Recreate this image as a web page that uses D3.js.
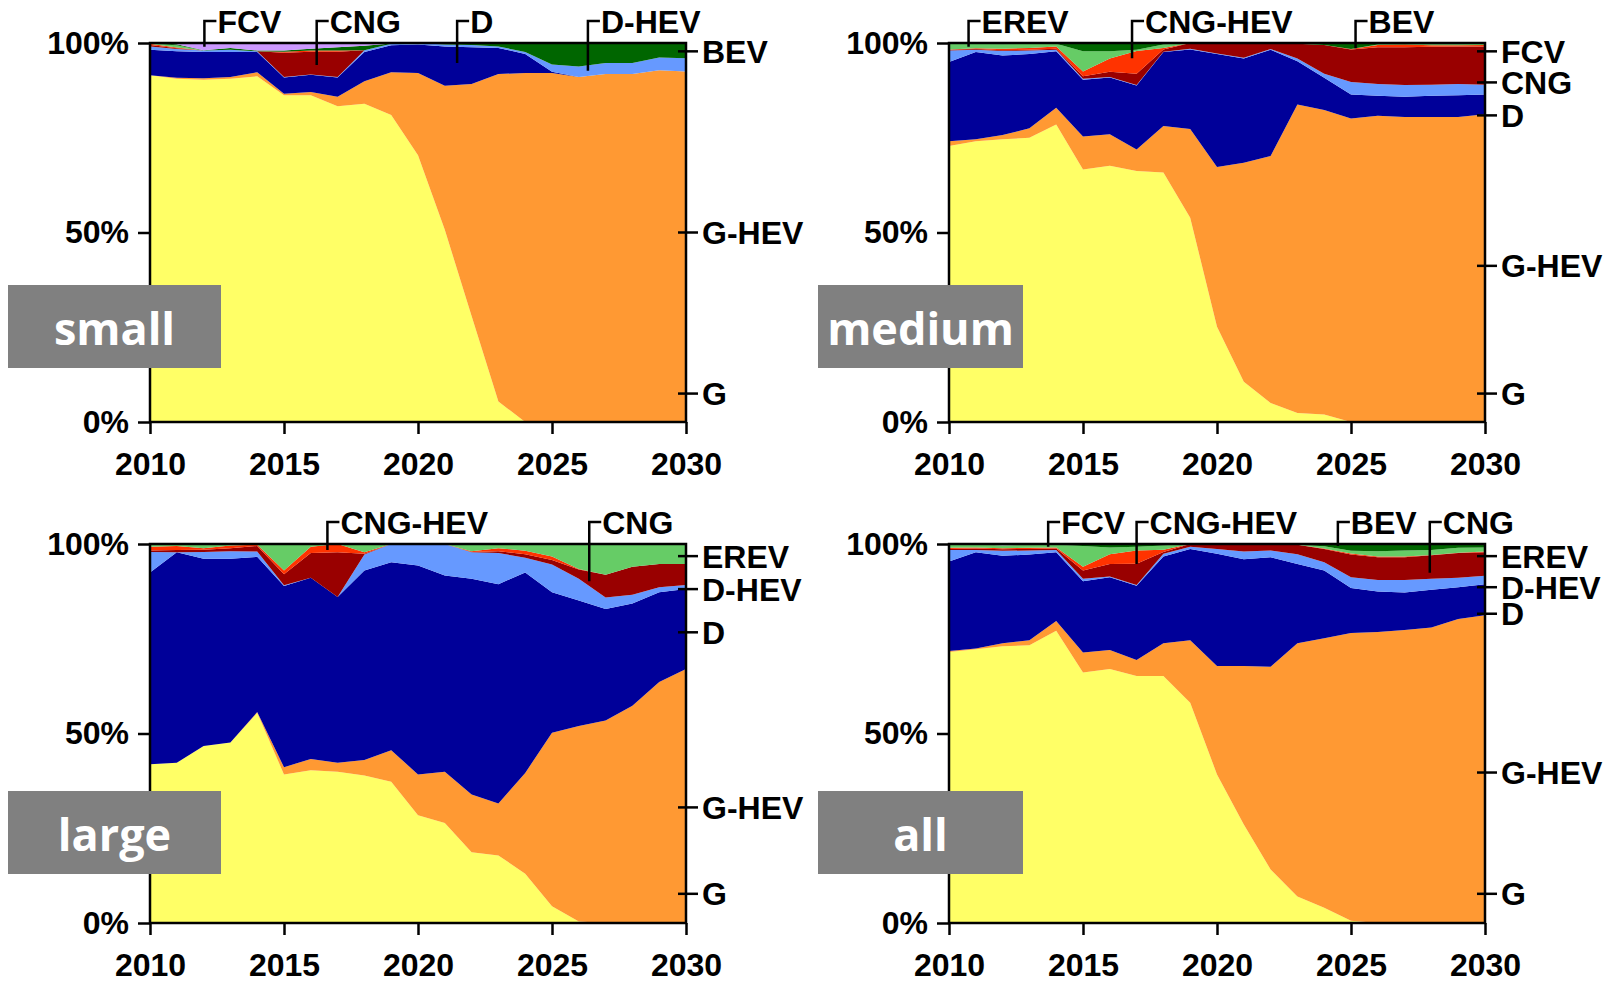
<!DOCTYPE html>
<html>
<head>
<meta charset="utf-8">
<script src="https://cdn.jsdelivr.net/npm/d3@7"></script>
<style>
  body { margin: 0; background: #fff; }
  svg text { font-family: "Liberation Sans", Arial, sans-serif; font-weight: bold; }
  .box-label { font-family: "Open Sans", sans-serif; }
</style>
</head>
<body>
<svg id="chart" width="1615" height="981"></svg>
<script>
// categories
const years = d3.range(2010, 2031);
const seriesKeys = ['G', 'G-HEV', 'D', 'D-HEV', 'CNG', 'CNG-HEV', 'EREV', 'BEV', 'FCV'];
const seriesColors = ['#FFFF66', '#FF9933', '#000099', '#6699FF', '#990000', '#FF3300', '#66CC66', '#006600', '#CC99FF'];

// shares in % (rows follow seriesKeys, columns follow years)
const smallShares = [
  [91.5, 90.6, 90.3, 90.6, 91.2, 86.2, 86.2, 83.3, 84.0, 81.0, 70.4, 50.7, 28.0, 5.4, 0, 0, 0, 0, 0, 0, 0],
  [0, 0.2, 0.4, 0.4, 1.1, 0.4, 0.9, 2.5, 5.9, 11.3, 21.7, 38.0, 61.2, 86.4, 92.1, 92.1, 91.0, 91.8, 91.8, 92.8, 92.5],
  [6.7, 7.0, 6.9, 6.6, 5.3, 4.3, 4.5, 5.1, 7.7, 7.1, 7.5, 10.4, 9.7, 6.9, 5.0, 0.3, 0, 0, 0, 0, 0],
  [0.9, 0.6, 0.4, 0.6, 0.2, 0.1, 0.1, 0.1, 0.5, 0.4, 0.4, 0.5, 0.6, 0.4, 0.5, 1.9, 2.8, 2.9, 2.9, 3.4, 3.5],
  [0.4, 0.2, 0, 0, 0, 6.4, 6.0, 6.7, 0, 0, 0, 0, 0, 0, 0, 0, 0, 0, 0, 0, 0],
  [0.3, 0.2, 0, 0, 0, 0.3, 0.3, 0.3, 0, 0, 0, 0, 0, 0, 0, 0, 0, 0, 0, 0, 0],
  [0.1, 0.6, 0, 0, 0, 0, 0, 0, 0, 0, 0, 0, 0, 0, 0, 0, 0, 0, 0, 0, 0],
  [0.1, 0.3, 0.1, 0.5, 0.2, 0.3, 0.5, 0.9, 1.2, 0.1, 0, 0.4, 0.5, 0.9, 2.4, 5.7, 6.2, 5.3, 5.3, 3.8, 4.0],
  [0, 0.3, 1.9, 1.3, 2.0, 2.0, 1.5, 1.1, 0.7, 0.1, 0, 0, 0, 0, 0, 0, 0, 0, 0, 0, 0]
];
const mediumShares = [
  [72.8, 74.1, 74.6, 75.0, 78.5, 66.6, 67.6, 66.2, 65.8, 53.9, 25.1, 10.6, 5.0, 2.4, 2.0, 0, 0, 0, 0, 0, 0],
  [1.3, 0.5, 1.1, 2.5, 4.4, 8.7, 8.3, 5.7, 12.3, 23.4, 42.2, 57.8, 65.2, 81.4, 80.3, 80.1, 80.8, 80.5, 80.5, 80.5, 81.2],
  [20.9, 23.0, 21.0, 19.6, 14.9, 15.0, 15.0, 16.9, 19.5, 21.0, 29.8, 27.5, 28.0, 11.4, 8.5, 6.3, 5.3, 5.3, 5.6, 5.7, 5.2],
  [3.0, 0.6, 1.2, 0.9, 0.4, 0.3, 0.1, 0.1, 0.1, 0.2, 0.1, 0.2, 0.2, 0.7, 1.1, 3.3, 3.1, 3.1, 2.9, 3.0, 2.6],
  [0.2, 0.2, 0.2, 0.2, 0.3, 0.6, 1.4, 3.0, 0.6, 1.5, 2.8, 3.9, 1.6, 3.9, 7.6, 8.6, 9.7, 10.0, 10.0, 9.9, 10.1],
  [0.1, 0.2, 0.4, 0.5, 0.6, 1.3, 3.5, 6.0, 0.4, 0, 0, 0, 0, 0, 0, 0.1, 0.6, 0.7, 0.4, 0.3, 0.4],
  [1.5, 1.2, 1.2, 1.1, 0.7, 5.3, 1.9, 0.3, 0.9, 0, 0, 0, 0, 0, 0, 0, 0.1, 0, 0.3, 0.3, 0.3],
  [0.1, 0.1, 0.1, 0.1, 0.1, 2.2, 2.2, 1.8, 0.4, 0, 0, 0, 0, 0.2, 0.5, 1.6, 0.4, 0.4, 0.3, 0.3, 0.2],
  [0.1, 0.1, 0.2, 0.1, 0.1, 0, 0, 0, 0, 0, 0, 0, 0, 0, 0, 0, 0, 0, 0, 0, 0]
];
const largeShares = [
  [41.9, 42.3, 46.7, 47.6, 55.5, 39.2, 40.3, 39.9, 38.9, 37.3, 28.4, 26.4, 18.7, 17.8, 13.0, 4.4, 0.4, 0, 0, 0, 0],
  [0, 0, 0, 0, 0.2, 1.9, 3.0, 2.4, 4.1, 8.3, 10.8, 13.5, 15.2, 13.7, 26.6, 45.8, 51.6, 53.5, 57.4, 63.6, 67.1],
  [50.6, 55.5, 49.4, 48.5, 41.0, 47.8, 47.8, 43.7, 50.0, 49.6, 55.1, 51.8, 56.9, 57.8, 52.9, 37.1, 33.1, 29.4, 27.0, 23.7, 21.1],
  [5.4, 0, 1.8, 2.0, 1.4, 0.2, 0, 0, 4.2, 4.8, 5.7, 8.3, 7.0, 8.2, 3.9, 7.3, 5.7, 3.1, 2.3, 1.3, 1.1],
  [0.4, 0.6, 0.6, 0.8, 1.5, 2.9, 6.5, 11.8, 0.2, 0, 0, 0, 0.1, 0.5, 0.9, 1.2, 2.5, 6.0, 7.4, 6.1, 5.5],
  [1.0, 1.1, 0.4, 0.7, 0.3, 1.0, 1.7, 2.2, 0.4, 0, 0, 0, 0.2, 0.8, 0.9, 0.9, 0.1, 0, 0, 0, 0],
  [0.7, 0.5, 1.1, 0.4, 0.2, 7.0, 0.7, 0, 2.2, 0, 0, 0, 1.9, 1.1, 1.8, 3.3, 6.6, 8.1, 6.0, 5.3, 5.3],
  [0, 0, 0, 0, 0, 0, 0, 0, 0, 0, 0, 0, 0, 0, 0, 0, 0, 0, 0, 0, 0],
  [0, 0, 0, 0, 0, 0, 0, 0, 0, 0, 0, 0, 0, 0, 0, 0, 0, 0, 0, 0, 0]
];
const allShares = [
  [71.5, 72.2, 73.0, 73.3, 77.1, 66.1, 67.0, 65.2, 65.2, 58.1, 39.2, 26.0, 14.1, 7.0, 4.0, 0.6, 0, 0, 0, 0, 0],
  [0.3, 0.2, 0.8, 1.3, 2.6, 5.3, 5.0, 4.2, 8.6, 16.5, 28.6, 41.8, 53.5, 66.8, 71.1, 75.9, 76.8, 77.3, 78.0, 80.2, 81.2],
  [23.6, 25.4, 23.1, 22.6, 18.1, 18.8, 19.2, 19.6, 22.9, 24.1, 29.6, 28.2, 28.9, 20.9, 17.9, 11.9, 10.7, 9.9, 9.9, 8.4, 8.2],
  [3.0, 0.6, 1.3, 1.1, 0.6, 0.6, 0.2, 0.2, 0.7, 0.6, 1.3, 2.0, 1.8, 2.6, 2.2, 2.8, 3.0, 3.3, 2.9, 2.5, 2.2],
  [0.3, 0.4, 0.4, 0.4, 0.4, 2.2, 3.3, 5.6, 0.5, 0.7, 1.3, 1.9, 1.6, 2.5, 3.5, 6.0, 6.0, 6.0, 6.2, 6.5, 6.2],
  [0.3, 0.3, 0.3, 0.3, 0.3, 1.0, 2.6, 3.5, 0.6, 0, 0, 0, 0, 0, 0.1, 0.3, 0.2, 0.2, 0.1, 0.1, 0.2],
  [0.8, 0.7, 0.7, 0.7, 0.7, 5.5, 1.8, 1.0, 1.1, 0, 0, 0.1, 0.1, 0, 0.6, 0.7, 1.4, 1.6, 1.3, 1.3, 1.1],
  [0.1, 0.1, 0.1, 0.1, 0.1, 0.4, 0.8, 0.6, 0.4, 0, 0, 0, 0, 0.2, 0.6, 1.8, 1.9, 1.7, 1.6, 1.0, 0.9],
  [0.1, 0.1, 0.3, 0.2, 0.1, 0.1, 0.1, 0.1, 0, 0, 0, 0, 0, 0, 0, 0, 0, 0, 0, 0, 0]
];

// callouts above each panel: [label, year, share% where the leader ends]
const smallCallouts = [['FCV', 2012.03, 99.0], ['CNG', 2016.22, 94.2], ['D', 2021.46, 94.7], ['D-HEV', 2026.34, 92.7]];
const mediumCallouts = [['EREV', 2010.73, 99.0], ['CNG-HEV', 2016.83, 96.0], ['BEV', 2025.17, 98.6]];
const largeCallouts = [['CNG-HEV', 2016.62, 98.4], ['CNG', 2026.39, 90.2]];
const allCallouts = [['FCV', 2013.7, 99.3], ['CNG-HEV', 2017.0, 94.7], ['BEV', 2024.51, 99.5], ['CNG', 2027.94, 92.4]];

// labels on the right axis: [label, share%]
const smallRight = [['BEV', 97.8], ['G-HEV', 50], ['G', 7.5]];
const mediumRight = [['FCV', 97.8], ['CNG', 89.6], ['D', 80.9], ['G-HEV', 41.2], ['G', 7.5]];
const largeRight = [['EREV', 96.8], ['D-HEV', 88.1], ['D', 76.7], ['G-HEV', 30.5], ['G', 7.7]];
const allRight = [['EREV', 96.8], ['D-HEV', 88.6], ['D', 81.6], ['G-HEV', 39.7], ['G', 7.7]];

const panels = [
  { name: 'small', shares: smallShares, callouts: smallCallouts, right: smallRight, left: 150, top: 43, box: [8, 285, 213, 83] },
  { name: 'medium', shares: mediumShares, callouts: mediumCallouts, right: mediumRight, left: 949, top: 43, box: [818, 285, 205, 83] },
  { name: 'large', shares: largeShares, callouts: largeCallouts, right: largeRight, left: 150, top: 544, box: [8, 791, 213, 83] },
  { name: 'all', shares: allShares, callouts: allCallouts, right: allRight, left: 949, top: 544, box: [818, 791, 205, 83] }
];

const W = 536, H = 379;
const FONT = '32px';
const svg = d3.select('#chart');

panels.forEach(p => {
  const rows = years.map((yr, i) => {
    const r = { year: yr };
    seriesKeys.forEach((k, s) => { r[k] = p.shares[s][i]; });
    return r;
  });

  const x = d3.scaleLinear().domain([2010, 2030]).range([0, W]);
  const y = d3.scaleLinear().domain([0, 1]).range([H, 0]);

  const stack = d3.stack().keys(seriesKeys).offset(d3.stackOffsetExpand);
  const layers = stack(rows);

  const g = svg.append('g').attr('transform', `translate(${p.left},${p.top})`);

  const area = d3.area()
    .x(d => x(d.data.year))
    .y0(d => y(d[0]))
    .y1(d => y(d[1]));

  g.selectAll('path.layer')
    .data(layers)
    .enter()
    .append('path')
    .attr('class', 'layer')
    .attr('d', area)
    .attr('fill', (d, i) => seriesColors[i]);

  // frame
  g.append('rect')
    .attr('width', W).attr('height', H)
    .attr('fill', 'none').attr('stroke', '#000').attr('stroke-width', 2.5);

  // y axis
  const yAxis = g.append('g')
    .call(d3.axisLeft(y).tickValues([0, 0.5, 1]).tickFormat(d3.format('.0%')).tickSize(12).tickPadding(9));
  yAxis.select('.domain').remove();

  // x axis
  const xAxis = g.append('g')
    .attr('transform', `translate(0,${H})`)
    .call(d3.axisBottom(x).tickValues([2010, 2015, 2020, 2025, 2030]).tickFormat(d3.format('d')).tickSize(12).tickPadding(18));
  xAxis.select('.domain').remove();

  g.selectAll('.tick line').attr('stroke', '#000').attr('stroke-width', 2.5);
  g.selectAll('.tick text').style('font-size', FONT).attr('fill', '#000');

  // right-hand series labels
  const rl = g.selectAll('g.rlab').data(p.right).enter().append('g')
    .attr('class', 'rlab')
    .attr('transform', d => `translate(${W},${y(d[1] / 100)})`);
  rl.append('line').attr('x1', -8).attr('x2', 12).attr('stroke', '#000').attr('stroke-width', 2.5);
  rl.append('text').attr('x', 16).attr('dy', '0.36em').style('font-size', FONT).text(d => d[0]);

  // leaders with labels above the panel
  const armY = -22;
  const co = g.selectAll('g.callout').data(p.callouts).enter().append('g')
    .attr('class', 'callout')
    .attr('transform', d => `translate(${x(d[1])},0)`);
  co.append('path')
    .attr('d', d => `M0,${y(d[2] / 100)}V${armY}H12`)
    .attr('fill', 'none').attr('stroke', '#000').attr('stroke-width', 2.5);
  co.append('text').attr('x', 13).attr('y', armY).attr('dy', '0.36em')
    .style('font-size', FONT).text(d => d[0]);

  // size class tag
  const [bx, by, bw, bh] = p.box;
  svg.append('rect').attr('x', bx).attr('y', by).attr('width', bw).attr('height', bh).attr('fill', '#808080');
  svg.append('text').attr('class', 'box-label')
    .attr('x', bx + bw / 2).attr('y', by + 60)
    .attr('text-anchor', 'middle').attr('fill', '#fff')
    .style('font-size', '45px').text(p.name);
});
</script>
</body>
</html>
